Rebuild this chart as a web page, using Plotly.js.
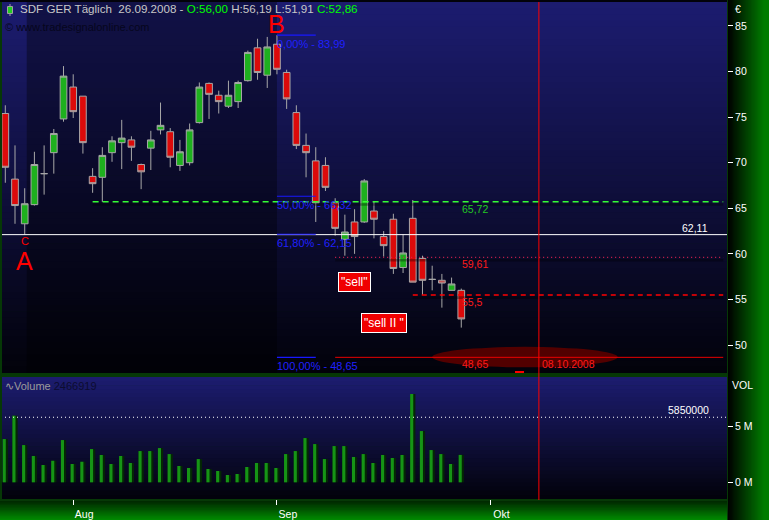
<!DOCTYPE html>
<html>
<head>
<meta charset="utf-8">
<script src="https://cdn.plot.ly/plotly-3.0.1.min.js"></script>
<style>
  html, body { margin: 0; padding: 0; background: #000; }
  #chart { width: 769px; height: 520px; }
</style>
</head>
<body>
<div id="chart"></div>
<script>
// SDF (K+S) GER, daily candles 23.07.2008 - 26.09.2008
const dates = [
  '2008-07-23','2008-07-24','2008-07-25','2008-07-28','2008-07-29','2008-07-30','2008-07-31',
  '2008-08-01','2008-08-04','2008-08-05','2008-08-06','2008-08-07','2008-08-08',
  '2008-08-11','2008-08-12','2008-08-13','2008-08-14','2008-08-15',
  '2008-08-18','2008-08-19','2008-08-20','2008-08-21','2008-08-22',
  '2008-08-25','2008-08-26','2008-08-27','2008-08-28','2008-08-29',
  '2008-09-01','2008-09-02','2008-09-03','2008-09-04','2008-09-05',
  '2008-09-08','2008-09-09','2008-09-10','2008-09-11','2008-09-12',
  '2008-09-15','2008-09-16','2008-09-17','2008-09-18','2008-09-19',
  '2008-09-22','2008-09-23','2008-09-24','2008-09-25','2008-09-26'
];
const openP  = [75.4,68.2,63.3,65.4,68.8,71.1,74.8,78.3,77.3,68.5,68.4,71.1,72.2,72.5,69.8,71.6,73.6,73.4,69.7,70.0,74.4,78.7,77.4,76.2,76.7,79.0,82.6,79.6,83.0,79.9,75.5,71.9,70.2,69.7,65.6,61.6,63.5,63.5,64.7,61.9,63.8,58.5,63.9,59.5,57.2,57.1,56.0,56.00];
const highP  = [76.3,71.9,67.2,71.2,71.9,73.7,80.6,79.7,77.3,69.4,71.7,72.9,74.7,72.9,69.9,73.5,76.6,73.8,72.5,74.3,78.8,78.8,77.9,79.0,79.0,82.3,83.6,83.8,83.99,80.2,76.3,73.2,71.7,70.6,66.1,64.3,64.9,68.2,65.7,62.5,64.4,62.1,65.9,59.8,58.7,57.8,57.4,56.19];
const lowP   = [67.8,63.3,62.1,65.3,66.5,68.8,74.5,74.9,71.0,66.7,65.7,70.1,69.3,70.2,67.1,69.2,73.1,69.5,69.1,69.7,74.3,74.8,75.4,76.0,76.0,78.9,79.1,78.2,79.7,75.9,71.5,68.4,63.5,66.9,62.0,59.8,60.0,63.4,61.7,59.7,57.8,57.9,56.9,55.5,56.0,54.1,56.0,51.91];
const closeP = [69.5,65.3,65.5,69.8,68.8,73.2,79.5,75.6,72.2,67.7,70.8,72.4,72.7,71.7,69.0,72.5,74.1,70.6,71.2,73.6,78.3,77.5,76.7,77.4,78.8,82.1,79.9,82.7,80.25,77.0,71.9,71.1,65.6,67.3,62.8,62.4,61.9,68.0,63.8,60.9,58.4,60.1,56.9,57.1,57.2,56.8,56.7,52.86];
const volume = [3890000,5990000,3350000,2370000,1560000,1940000,3800000,1650000,1850000,2990000,2460000,1650000,2370000,1740000,2810000,2810000,3080000,2540000,1470000,1290000,2090000,1200000,1020000,660000,750000,1380000,1740000,1740000,1290000,2540000,2810000,3980000,3440000,2090000,3260000,3260000,2280000,2540000,1740000,2460000,2190000,2460000,7940000,4610000,2900000,2540000,1650000,2466919];

// month ticks
const monthTicks  = ['2008-08-01','2008-09-01','2008-10-01'];
const monthLabels = ['Aug','Sep','Okt'];
const priceTicks  = [50,55,60,65,70,75,80,85];
const volTicks    = [0, 5000000];
const volTickText = ['0 M','5 M'];

// drawn levels
const levelGreen = 65.72;   // green dashed
const levelWhite = 62.11;   // white support line
const levelDot   = 59.61;   // red dotted
const levelDash  = 55.5;    // red dashed
const levelLow   = 48.65;   // red solid
const volLevel   = 5850000; // dotted volume line
const markerDate = '2008-10-08';

// Fibonacci retracement (B high to low)
const fibPct    = ['0,00%','50,00%','61,80%','100,00%'];
const fibLevels = [83.99, 66.32, 62.15, 48.65];

// ---------- geometry helpers (pixel -> paper) ----------
const plotL = 2, plotR = 727, plotT = 2, plotB = 500;
const px = x => (x - plotL) / (plotR - plotL);
const py = y => (plotB - y) / (plotB - plotT);
const DAY = 86400000;
const comma = v => String(v).replace('.', ',');
const fmt2 = v => v.toFixed(2).replace('.', ',');
const deDate = d => d.split('-').reverse().join('.');

const shapes = [];
const mix = (a, b, t) => 'rgb(' + a.map((v, i) => Math.round(v + (b[i] - v) * t)).join(',') + ')';
function vBands(x0, x1, y0, y1, c0, c1, n) {
  for (let i = 0; i < n; i++) {
    const ya = y0 + (y1 - y0) * i / n;
    const yb = Math.min(y1, y0 + (y1 - y0) * (i + 1) / n + 0.7);
    shapes.push({type: 'rect', xref: 'paper', yref: 'paper', layer: 'below',
      x0: px(x0), x1: px(x1), y0: py(ya), y1: py(yb),
      fillcolor: mix(c0, c1, (i + 0.5) / n), line: {width: 0}});
  }
}
function hBands(x0, x1, y0, y1, c0, c1, n) {
  for (let i = 0; i < n; i++) {
    const xa = x0 + (x1 - x0) * i / n;
    const xb = Math.min(x1, x0 + (x1 - x0) * (i + 1) / n + 0.7);
    shapes.push({type: 'rect', xref: 'paper', yref: 'paper', layer: 'below',
      x0: px(xa), x1: px(xb), y0: py(y0), y1: py(y1),
      fillcolor: mix(c0, c1, (i + 0.5) / n), line: {width: 0}});
  }
}

// panel backgrounds
vBands(2, 727, 2, 373, [28, 28, 112], [2, 2, 10], 60);
vBands(2, 727, 377, 499, [28, 28, 112], [2, 2, 10], 30);
// bottom date band and right scale band
vBands(0, 727, 501, 520, [0, 38, 0], [0, 140, 0], 14);
hBands(728, 764, 0, 520, [0, 0, 0], [0, 124, 0], 30);
shapes.push({type: 'rect', xref: 'paper', yref: 'paper', layer: 'below',
  x0: px(764), x1: px(770), y0: py(0), y1: py(520), fillcolor: 'rgb(0,124,0)', line: {width: 0}});
shapes.push({type: 'rect', xref: 'paper', yref: 'paper', layer: 'below',
  x0: px(0), x1: px(727), y0: py(0), y1: py(2), fillcolor: '#02020a', line: {width: 0}});

// darker zone of the drawing tool between A and B
shapes.push({type: 'rect', xref: 'x', yref: 'y domain', layer: 'below',
  x0: '2008-07-25 05:00', x1: dates[28], y0: 0, y1: 1,
  fillcolor: 'rgba(0,0,0,0.36)', line: {width: 0}});

// red glow around the low target
shapes.push({type: 'circle', xref: 'x', yref: 'y', layer: 'below',
  x0: '2008-09-23', x1: '2008-10-20 03:00', y0: 47.55, y1: 49.8,
  fillcolor: '#520000', line: {width: 0}});

// header icon (small green candle)
shapes.push({type: 'line', xref: 'paper', yref: 'paper', x0: px(10), x1: px(10), y0: py(4), y1: py(16),
  line: {color: '#a0a0a0', width: 1}});
shapes.push({type: 'rect', xref: 'paper', yref: 'paper', x0: px(7.5), x1: px(12.5), y0: py(6.5), y1: py(13.5),
  fillcolor: '#22cc22', line: {color: '#a0a0a0', width: 1}});

// soft shadows just under the drawn levels
const lineEnd = '2008-11-04';
[[levelGreen, '2008-08-05'], [levelDot, '2008-09-09'], [levelDash, '2008-09-19']].forEach(([lv, start]) => {
  shapes.push({type: 'rect', xref: 'x', yref: 'y', x0: start, x1: lineEnd, y0: lv - 0.45, y1: lv - 0.16,
    fillcolor: 'rgba(0,0,0,0.33)', line: {width: 0}});
});

// horizontal levels
shapes.push({type: 'line', xref: 'paper', yref: 'y', x0: 0, x1: 1, y0: levelWhite, y1: levelWhite,
  line: {color: '#ffffff', width: 1}});
shapes.push({type: 'line', xref: 'x', yref: 'y', x0: '2008-08-05', x1: lineEnd, y0: levelGreen, y1: levelGreen,
  line: {color: '#33ff33', width: 1.6, dash: '6px,4px'}});
shapes.push({type: 'line', xref: 'x', yref: 'y', x0: '2008-09-09', x1: lineEnd, y0: levelDot, y1: levelDot,
  line: {color: '#d82050', width: 1.2, dash: '1px,3px'}});
shapes.push({type: 'line', xref: 'x', yref: 'y', x0: '2008-09-19', x1: lineEnd, y0: levelDash, y1: levelDash,
  line: {color: '#ff0000', width: 1.5, dash: '5px,4px'}});
shapes.push({type: 'line', xref: 'x', yref: 'y', x0: '2008-09-09', x1: lineEnd, y0: levelLow, y1: levelLow,
  line: {color: '#e80000', width: 1}});

// Fibonacci stubs
fibLevels.forEach(lv => {
  shapes.push({type: 'line', xref: 'x', yref: 'y', x0: dates[28], x1: dates[32], y0: lv, y1: lv,
    line: {color: '#1818ff', width: 1.2}});
});

// dated vertical marker across both panels
shapes.push({type: 'line', xref: 'x', yref: 'paper', x0: markerDate, x1: markerDate, y0: 0, y1: 1,
  line: {color: '#ff0000', width: 1}});
// dotted volume level
shapes.push({type: 'line', xref: 'paper', yref: 'y2', x0: px(5), x1: 1, y0: volLevel, y1: volLevel,
  line: {color: '#ffffff', width: 1, dash: '1px,3px'}});
// clipped red mark at the bottom of the price panel
shapes.push({type: 'rect', xref: 'paper', yref: 'paper', x0: px(515), x1: px(524), y0: py(373), y1: py(371),
  fillcolor: '#ff0000', line: {width: 0}});

// ---------- annotations ----------
const FONT = '"Liberation Sans", Arial, sans-serif';
const ann = [];
const last = dates.length - 1;
const green = s => '<span style="color:#00ff00">' + s + '</span>';
ann.push({xref: 'paper', yref: 'paper', x: px(18), y: py(9), xanchor: 'left', yanchor: 'middle', showarrow: false,
  font: {family: FONT, size: 11.6, color: '#c8c8c8'},
  text: 'SDF GER Täglich\u00a0\u00a0' + deDate(dates[last]) + ' - ' + green('O:' + fmt2(openP[last])) +
        ' H:' + fmt2(highP[last]) + ' L:' + fmt2(lowP[last]) + ' ' + green('C:' + fmt2(closeP[last]))});
ann.push({xref: 'paper', yref: 'paper', x: px(3), y: py(27), xanchor: 'left', yanchor: 'middle', showarrow: false,
  font: {family: FONT, size: 11, color: '#06061c'}, text: '© www.tradesignalonline.com'});
ann.push({xref: 'paper', yref: 'paper', x: px(733), y: py(9), xanchor: 'left', yanchor: 'middle', showarrow: false,
  font: {family: FONT, size: 10.5, color: '#ffffff'}, text: '€'});
ann.push({xref: 'paper', yref: 'paper', x: px(730), y: py(385), xanchor: 'left', yanchor: 'middle', showarrow: false,
  font: {family: FONT, size: 10.5, color: '#ffffff'}, text: 'VOL'});
ann.push({xref: 'paper', yref: 'paper', x: px(3), y: py(386), xanchor: 'left', yanchor: 'middle', showarrow: false,
  font: {family: FONT, size: 11, color: '#9c9c9c'},
  text: '∿Volume <span style="color:#0c0c30">' + volume[last] + '</span>'});

// level labels
const lbl = (text, x, y, color, yshift, xanchor, xref, yref) => ann.push({
  xref: xref || 'x', yref: yref || 'y', x: x, y: y, xanchor: xanchor || 'left', yanchor: 'middle',
  yshift: yshift, xshift: -1, showarrow: false, text: text,
  font: {family: FONT, size: 10.5, color: color}});
lbl(comma(levelGreen), dates[last], levelGreen, '#22c822', -7.5);
lbl(comma(levelDot),   dates[last], levelDot,   '#ff1a1a', -7);
lbl(comma(levelDash),  dates[last], levelDash,  '#ff1a1a', -7);
lbl(comma(levelLow),   dates[last], levelLow,   '#ff1a1a', -7);
lbl(comma(levelWhite), px(711), levelWhite, '#ffffff', 7, 'right', 'paper');
lbl(deDate(markerDate), markerDate, levelLow, '#ff1a1a', -6.5, 'left');
ann[ann.length - 1].xshift = 1;
lbl(String(volLevel), px(712), volLevel, '#ffffff', 7, 'right', 'paper', 'y2');
fibLevels.forEach((lv, i) => {
  ann.push({xref: 'x', yref: 'y', x: dates[28], y: lv, xanchor: 'left', yanchor: 'middle', xshift: -2, yshift: -9,
    showarrow: false, text: fibPct[i] + ' - ' + fmt2(lv), font: {family: FONT, size: 11, color: '#2020ff'}});
});

// swing letters
const letter = (t, x, y, size) => ann.push({xref: 'x', yref: 'y', x: x, y: y, xanchor: 'center', yanchor: 'middle',
  showarrow: false, text: t, borderpad: 0, font: {family: FONT, size: size, color: '#ff0000'}});
letter('B', dates[28], 85.2, 25);
letter('A', dates[2], 59.2, 25);
letter('C', dates[2], 61.45, 11);

// sell signals
const sellBox = (t, x, y) => ann.push({xref: 'x', yref: 'y', x: x, y: y, xanchor: 'center', yanchor: 'middle',
  showarrow: false, text: t, bgcolor: '#f00000', bordercolor: '#ffffff', borderwidth: 1, borderpad: 2,
  font: {family: FONT, size: 12, color: '#ffffff'}});
sellBox('"sell"', '2008-09-11', 56.9);
sellBox('"sell II "', '2008-09-16', 52.4);

// ---------- traces ----------
const traces = [
  {type: 'candlestick', x: dates, open: openP, high: highP, low: lowP, close: closeP,
   xaxis: 'x', yaxis: 'y', whiskerwidth: 0, hoverinfo: 'skip', showlegend: false,
   increasing: {line: {color: '#a8a8a8', width: 1}, fillcolor: '#1eb01e'},
   decreasing: {line: {color: '#a8a8a8', width: 1}, fillcolor: '#dc0a0a'}},
  {type: 'bar', x: dates, y: volume, xaxis: 'x', yaxis: 'y2', width: 0.54 * DAY, offset: -0.27 * DAY,
   marker: {color: '#042804', line: {width: 0}}, hoverinfo: 'skip', showlegend: false},
  {type: 'bar', x: dates, y: volume, xaxis: 'x', yaxis: 'y2', width: 0.32 * DAY, offset: -0.27 * DAY,
   marker: {color: '#169416', line: {width: 0}}, hoverinfo: 'skip', showlegend: false}
];

const layout = {
  width: 769, height: 520,
  margin: {l: 2, r: 42, t: 2, b: 20, pad: 0},
  paper_bgcolor: '#063806', plot_bgcolor: 'rgba(0,0,0,0)',
  showlegend: false, hovermode: false,
  boxgap: 0, boxgroupgap: 0.31, barmode: 'overlay',
  font: {family: FONT, size: 10.5, color: '#ffffff'},
  xaxis: {type: 'date', anchor: 'y2', range: ['2008-07-22 15:50', '2008-11-04 09:20'],
    rangebreaks: [{bounds: ['sat', 'mon']}], rangeslider: {visible: false},
    showgrid: false, zeroline: false, showline: false,
    tickmode: 'array', tickvals: monthTicks, ticktext: monthLabels,
    ticks: 'outside', ticklen: 5, tickwidth: 1, tickcolor: '#ffffff', ticklabelshift: 11,
    tickfont: {family: FONT, size: 10.5, color: '#ffffff'}},
  yaxis: {domain: [0.255, 1], range: [46.93, 87.63], side: 'right', anchor: 'x',
    showgrid: false, zeroline: false, showline: false,
    tickmode: 'array', tickvals: priceTicks, ticks: 'outside', ticklen: 5, tickwidth: 1, tickcolor: '#ffffff',
    tickfont: {family: FONT, size: 10.5, color: '#ffffff'}},
  yaxis2: {domain: [0.002, 0.247], range: [-1500000, 9470000], side: 'right', anchor: 'x',
    showgrid: false, zeroline: false, showline: false,
    tickmode: 'array', tickvals: volTicks, ticktext: volTickText, ticks: 'outside', ticklen: 5, tickwidth: 1,
    tickcolor: '#ffffff', tickfont: {family: FONT, size: 10.5, color: '#ffffff'}},
  shapes: shapes,
  annotations: ann
};

Plotly.newPlot('chart', traces, layout, {staticPlot: true, displayModeBar: false});
</script>
</body>
</html>
